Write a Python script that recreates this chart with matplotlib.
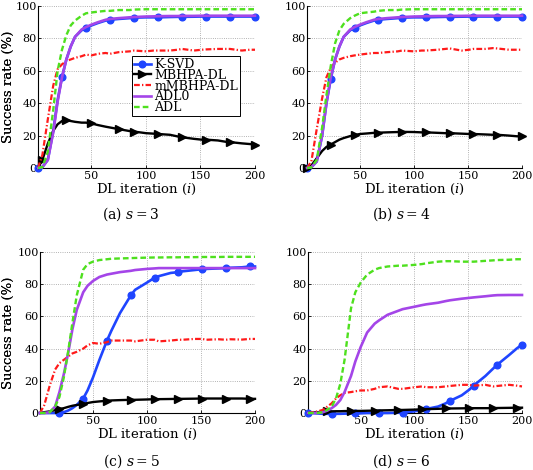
import matplotlib
matplotlib.use("Agg")
import matplotlib.pyplot as plt

plt.rcParams['font.family'] = 'DejaVu Serif'
plt.rcParams['mathtext.fontset'] = 'dejavuserif'

# DL iteration grid
it = [1, 5, 10, 15, 19, 23, 27, 31, 35, 41, 45, 50, 56, 63, 67, 75, 85, 89, 100,
      107, 111, 122, 129, 133, 144, 151, 155, 166, 173, 177, 188, 195, 200]

# marker positions (indices into it)
marks_A = [0, 5, 10, 14, 17, 20, 23, 26, 29, 32]
marks_A2 = [1, 6, 11, 15, 17, 20, 23, 26, 29, 32]
marks_B = [4, 9, 13, 16, 19, 22, 25, 28, 31]

# (a) s = 3
ksvd_a = [0, 0.5, 5, 23, 42, 56, 67, 75, 81, 85, 86.5, 88, 89.5, 91, 91.5, 92, 92.5, 92.8, 93, 93,
          93, 93.2, 93.3, 93.3, 93.4, 93.5, 93.5, 93.5, 93.5, 93.5, 93.5, 93.5, 93.5]
mbhpa_a = [0, 5, 15, 23, 27, 29, 29.5, 29, 28.5, 28, 28, 27.5, 26.5, 25.5, 25, 24, 22.8, 22.5, 21.5,
           21.2, 21, 20.5, 19.5, 19, 18, 17.5, 17.5, 17, 16.2, 16, 15.2, 14.8, 14.5]
mmbhpa_a = [0, 8, 30, 51, 61, 64, 66, 67, 68, 69, 70, 69.5, 70.5, 71, 70.5, 71.5, 72, 72.5, 72,
            72.5, 72.5, 72.5, 73, 73.5, 72.5, 73, 73.2, 73.5, 73.5, 73.5, 72.5, 73, 73]
adl0_a = [0, 0.5, 5, 22, 41, 56, 67, 75, 81, 85.5, 87, 88.5, 90, 91.5, 92, 92.5, 93, 93.2, 93.5,
          93.6, 93.7, 93.8, 93.8, 93.9, 93.9, 94, 94, 94, 94, 94, 94, 94, 94]
adl_a = [0, 0.5, 10, 36, 60, 73, 82, 88, 91, 94, 95.5, 96, 96.5, 97, 97, 97.5, 97.5, 97.8, 98,
         98, 98, 98, 98, 98, 98, 98, 98, 98, 98, 98, 98, 98, 98]

# (b) s = 4
ksvd_b = [0, 0.5, 4, 20, 40, 55, 67, 75, 81, 85, 86.5, 88, 89.5, 91, 91.5, 92, 92.5, 92.8, 93, 93,
          93, 93.2, 93.3, 93.3, 93.4, 93.5, 93.5, 93.5, 93.5, 93.5, 93.5, 93.5, 93.5]
mbhpa_b = [0, 1.5, 6, 10.5, 13, 14.5, 16, 17.5, 18.5, 19.7, 20.3, 21, 21.3, 21.7, 21.8, 22, 22.2,
           22.3, 22.2, 22, 22, 21.7, 21.5, 21.5, 21.2, 21, 21, 20.7, 20.5, 20.5, 20, 19.6, 19.5]
mmbhpa_b = [0, 4, 24, 43, 56, 62, 65, 67, 68, 69, 69.5, 70, 70.5, 71, 71, 71.5, 72, 72.5, 72,
            72.5, 72.5, 73, 73.5, 73.8, 72.5, 73, 73.5, 73.5, 74, 73.8, 73, 73, 73]
adl0_b = [0, 0.5, 4, 20, 40, 56, 67, 75, 81, 85.5, 87, 88.5, 90, 91.5, 92, 92.5, 93, 93.2, 93.5,
          93.6, 93.7, 93.8, 93.8, 93.9, 93.9, 94, 94, 94, 94, 94, 94, 94, 94]
adl_b = [0, 0.3, 5, 25, 45, 63, 77, 85, 89, 92.5, 94, 95.5, 96, 96.5, 97, 97.5, 97.5, 97.8, 98,
         98, 98, 98, 98, 98, 98, 98, 98, 98, 98, 98, 98, 98, 98]

# (c) s = 5
ksvd_c = [0, 0, 0, 0, 0, 0.5, 1.5, 3, 5, 9, 14, 22, 33, 45, 51, 62, 73, 76.5, 81, 84, 85, 87,
          87.5, 88, 88.8, 89.3, 89.5, 89.8, 90, 90.2, 90.5, 91, 91]
mbhpa_c = [0, 0.5, 1, 1.8, 2.5, 3, 3.8, 4.5, 5, 5.5, 6.2, 6.8, 7.2, 7.6, 7.8, 8, 8.2, 8.2, 8.4,
           8.6, 8.6, 8.7, 8.8, 8.8, 8.9, 9, 9, 9, 9, 9, 9, 8.8, 8.8]
mmbhpa_c = [0, 5, 17, 27, 31, 33, 35, 37, 38, 40, 42, 43.5, 43, 44, 45, 45, 45, 44.5, 45.5, 45.5,
            44.5, 45, 45.5, 45.5, 46, 46, 45.5, 45.8, 45.5, 45.8, 45.6, 46, 46]
adl0_c = [0, 0, 0.5, 4, 13, 24, 37, 52, 64, 75, 79, 82, 84.5, 86, 86.5, 87.5, 88.3, 88.8, 89.5,
          89.8, 90, 90, 90, 90, 90, 90, 90, 90, 90, 90, 90, 90, 90]
adl_c = [0, 0, 0.5, 4, 10, 22, 38, 56, 73, 89, 92.5, 94, 95, 95.5, 95.8, 96, 96.2, 96.3, 96.5,
         96.6, 96.6, 96.7, 96.7, 96.8, 96.8, 96.9, 96.9, 96.9, 97, 97, 97, 97, 97]

# (d) s = 6
ksvd_d = [0, 0, -0.3, -0.5, -0.5, -0.5, -0.5, -0.5, -0.4, -0.3, -0.3, -0.2, 0, 0, 0, 0, 0.2, 0.3,
          1, 2, 2.5, 4, 6, 7.5, 11, 14.5, 17, 23, 27.5, 30, 36, 40, 42.5]
mbhpa_d = [0, 0.3, 0.5, 0.8, 1, 1, 1.1, 1.1, 1.2, 1.2, 1.3, 1.3, 1.4, 1.5, 1.6, 1.7, 1.9, 1.9,
           2.1, 2.3, 2.4, 2.6, 2.8, 2.8, 2.9, 3, 3, 3, 3, 3.1, 3.2, 3.3, 3.3]
mmbhpa_d = [0, 0.5, 1, 2, 4, 6, 9, 11, 12.5, 13, 13.5, 14, 14, 15, 16, 16.5, 15, 15, 16, 16.5,
            16, 16, 16.5, 16.8, 17.5, 17.5, 17, 17.5, 16.5, 16.8, 17.5, 17, 16.5]
adl0_d = [0, 0, 0, 0.5, 1.5, 3, 5, 8, 13, 23, 32, 41, 50, 55.5, 57.5, 61, 63.5, 64.5, 66, 67,
          67.5, 68.5, 69.5, 70, 71, 71.5, 71.8, 72.5, 73, 73.2, 73.3, 73.3, 73.3]
adl_d = [0, 0, 0, 0.5, 2, 4, 9, 18, 33, 65, 75, 81, 86, 89, 90, 91, 91.5, 91.5, 92, 92.5, 93, 94,
         94.3, 94.3, 94, 94, 94, 94.5, 94.8, 95, 95.2, 95.5, 95.5]

panels = [
    ((38, 6, 255, 168), "(a) $s = 3$", (131, 214), ksvd_a, mbhpa_a, mmbhpa_a, adl0_a, adl_a, marks_A, marks_A2),
    ((307, 6, 522, 168), "(b) $s = 4$", (401, 214), ksvd_b, mbhpa_b, mmbhpa_b, adl0_b, adl_b, marks_A, marks_A),
    ((40, 252, 255, 413), "(c) $s = 5$", (131, 461), ksvd_c, mbhpa_c, mmbhpa_c, adl0_c, adl_c, marks_B, marks_B),
    ((308, 252, 522, 413), "(d) $s = 6$", (401, 461), ksvd_d, mbhpa_d, mmbhpa_d, adl0_d, adl_d, marks_A, marks_B),
]

W, H = 533, 470
fig = plt.figure(figsize=(W / 100, H / 100), dpi=100)

for i, (box, cap, cpos, ks, mb, mm, a0, ad, mk_ks, mk_mb) in enumerate(panels):
    x0, y0, x1, y1 = box
    ax = fig.add_axes([x0 / W, 1 - y1 / H, (x1 - x0) / W, (y1 - y0) / H])
    ax.plot(it, ks, color='#1f45ff', lw=1.9, marker='o', ms=4.8, markevery=mk_ks,
            label='K-SVD', clip_on=False, zorder=3)
    ax.plot(it, mb, color='black', lw=1.7, marker='>', ms=5.5, markevery=mk_mb,
            label='MBHPA-DL', clip_on=False, zorder=3)
    ax.plot(it, mm, color='#ff1a1a', lw=1.6, ls=(0, (2.6, 1.0, 0.6, 1.0)),
            label='mMBHPA-DL', clip_on=False, zorder=3)
    ax.plot(it, a0, color='#a445e8', lw=1.9, label='ADL0', clip_on=False, zorder=3)
    ax.plot(it, ad, color='#4ee01e', lw=1.7, ls=(0, (2.4, 1.3)), label='ADL',
            clip_on=False, zorder=3)

    ax.set_xlim(1, 200)
    ax.set_ylim(0, 100)
    ax.set_xticks([50, 100, 150, 200])
    ax.set_yticks([0, 20, 40, 60, 80, 100])
    ax.grid(True, color='#9a9a9a', linestyle=':', linewidth=0.6)
    ax.spines['top'].set_visible(False)
    ax.spines['right'].set_visible(False)
    ax.spines['left'].set_linewidth(0.8)
    ax.spines['bottom'].set_linewidth(0.8)
    ax.tick_params(direction='in', length=2, width=0.6, labelsize=8)
    ax.tick_params(axis='x', pad=2.5)
    ax.tick_params(axis='y', pad=1)
    ax.set_xlabel("DL iteration ($i$)", fontsize=9.5)
    ax.set_ylabel("Success rate (%)", fontsize=9.5)
    ax.xaxis.set_label_coords(0.5, -0.085)
    ax.yaxis.set_label_coords((15 - x0) / (x1 - x0), 0.5)
    fig.text(cpos[0] / W, 1 - cpos[1] / H, cap, ha='center', va='center', fontsize=10)

    if i == 0:
        leg = ax.legend(loc='upper left', bbox_to_anchor=(0.432, 0.69), fontsize=9,
                        labelspacing=-0.18, handlelength=1.4, handletextpad=0.25,
                        borderpad=0.15, borderaxespad=0, fancybox=False,
                        framealpha=1, edgecolor='black')
        leg.get_frame().set_linewidth(0.7)
        leg.set_zorder(5)

fig.savefig("out.png", dpi=100)
